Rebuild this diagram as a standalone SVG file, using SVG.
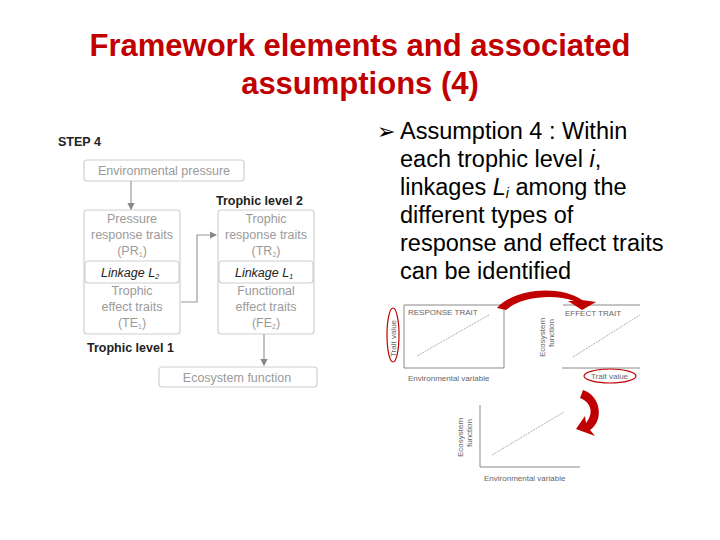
<svg xmlns="http://www.w3.org/2000/svg" width="720" height="540" viewBox="0 0 720 540">
<style>
.t{font-family:"Liberation Sans",Arial,sans-serif}
.title{font-size:31px;fill:#c00000;text-anchor:middle;font-weight:bold}
.b{fill:#fff;stroke:#d0d0d0;stroke-width:1.2}
.g{fill:#9a9a9a;font-size:12.5px;text-anchor:middle}
.k{fill:#222;font-size:12.5px;font-weight:bold}
.i{fill:#222;font-size:12.5px;font-style:italic;text-anchor:middle}
.c{fill:none;stroke:#999;stroke-width:1.2}
.ax{fill:none;stroke:#888;stroke-width:1}
.dl{stroke:#999;stroke-width:0.8;stroke-dasharray:2 1}
.s{fill:#666;font-size:8px}
.bul{font-size:23.5px;fill:#000}
.ov{fill:none;stroke:#c00000;stroke-width:1.2}
.arr{fill:#c00000}
</style>
<defs>
<marker id="ah" markerWidth="6" markerHeight="6" refX="5" refY="3" orient="auto"><path d="M0,0L6,3L0,6z" fill="#888"/></marker>
</defs>
<text class="t title" x="360" y="56">Framework elements and associated</text>
<text class="t title" x="360" y="94">assumptions (4)</text>
<text class="t k" x="58" y="146" font-size="11.5">STEP 4</text>
<g id="env"><rect class="b" x="84" y="160" width="160" height="21" rx="3"/><text class="t g" x="164" y="175">Environmental pressure</text></g>
<text class="t k" x="216" y="205">Trophic level 2</text>
<g id="tl1"><rect class="b" x="84" y="210" width="96" height="124" rx="3"/>
<text class="t g" x="132" y="223">Pressure</text><text class="t g" x="132" y="239">response traits</text><text class="t g" x="132" y="255">(PR<tspan font-size="7" dy="2">1</tspan><tspan dy="-2">)</tspan></text>
<rect class="b" x="85" y="261" width="94" height="22" rx="3"/><text class="t i" x="130" y="277">Linkage L<tspan font-size="7" dy="2">2</tspan></text>
<text class="t g" x="132" y="295">Trophic</text><text class="t g" x="132" y="311">effect traits</text><text class="t g" x="132" y="327">(TE<tspan font-size="7" dy="2">1</tspan><tspan dy="-2">)</tspan></text></g>
<g id="tl2"><rect class="b" x="218" y="210" width="96" height="124" rx="3"/>
<text class="t g" x="266" y="223">Trophic</text><text class="t g" x="266" y="239">response traits</text><text class="t g" x="266" y="255">(TR<tspan font-size="7" dy="2">2</tspan><tspan dy="-2">)</tspan></text>
<rect class="b" x="219" y="261" width="94" height="22" rx="3"/><text class="t i" x="264" y="277">Linkage L<tspan font-size="7" dy="2">1</tspan></text>
<text class="t g" x="266" y="295">Functional</text><text class="t g" x="266" y="311">effect traits</text><text class="t g" x="266" y="327">(FE<tspan font-size="7" dy="2">2</tspan><tspan dy="-2">)</tspan></text></g>
<text class="t k" x="87" y="352">Trophic level 1</text>
<g id="eco"><rect class="b" x="159" y="367" width="158" height="20" rx="3"/><text class="t g" x="237" y="382">Ecosystem function</text></g>
<g id="connectors">
<path class="c" d="M131,181V209" marker-end="url(#ah)"/>
<path class="c" d="M181,302H197V235H216" marker-end="url(#ah)"/>
<path class="c" d="M264,334V365" marker-end="url(#ah)"/>
</g>
<text x="377" y="139" font-family="DejaVu Sans,sans-serif" font-size="22">➢</text>
<text class="t bul" x="400" y="139">Assumption 4 : Within</text>
<text class="t bul" x="400" y="167">each trophic level <tspan font-style="italic">i</tspan>,</text>
<text class="t bul" x="400" y="195">linkages <tspan font-style="italic">L<tspan font-size="14" dy="3">i</tspan></tspan><tspan dy="-3"> among the</tspan></text>
<text class="t bul" x="400" y="223">different types of</text>
<text class="t bul" x="400" y="251">response and effect traits</text>
<text class="t bul" x="400" y="279">can be identified</text>
<g id="graphs">
<path class="ax" d="M404,305H504V368H404Z"/>
<line class="dl" x1="417" y1="356" x2="489" y2="315"/>
<text class="t s" x="408" y="315">RESPONSE TRAIT</text>
<ellipse class="ov" cx="393" cy="335" rx="6" ry="27"/>
<text class="t s" transform="translate(396,357) rotate(-90)">Trait value</text>
<text class="t s" x="408" y="381">Environmental variable</text>
<path class="ax" d="M563,305H640M562,368H640"/>
<line class="dl" x1="573" y1="357" x2="640" y2="315"/>
<text class="t s" x="565" y="316">EFFECT TRAIT</text>
<text class="t s" transform="translate(545,357) rotate(-90)">Ecosystem</text>
<text class="t s" transform="translate(554,347) rotate(-90)">function</text>
<ellipse class="ov" cx="610" cy="376" rx="26" ry="7"/>
<text class="t s" x="591" y="379">Trait value</text>
<path class="arr" d="M497,308C515,288 560,285 582,300L596,302L582,310L568,301L574,301C555,294 522,296 506,310Z"/>
<path class="ax" d="M480,405V467H580"/>
<line class="dl" x1="492" y1="455" x2="564" y2="412"/>
<text class="t s" transform="translate(463,457) rotate(-90)">Ecosystem</text>
<text class="t s" transform="translate(472,447) rotate(-90)">function</text>
<text class="t s" x="484" y="481">Environmental variable</text>
<path class="arr" d="M583,390C600,395 605,420 590,430L595,436L576,429L585,416L586,423C595,412 590,402 580,398Z"/>
</g>
</svg>
